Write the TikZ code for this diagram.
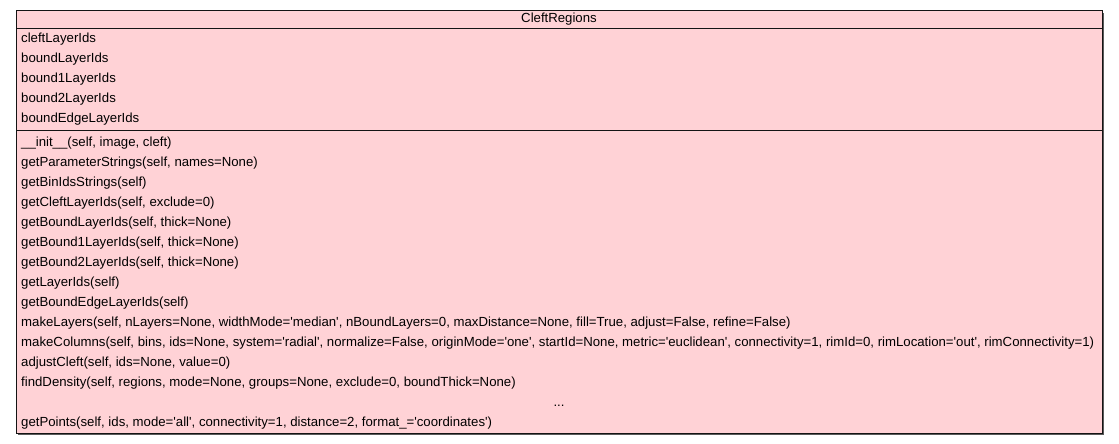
\documentclass[tikz,border=0pt]{standalone}
\usepackage{fontspec}
\setmainfont{Liberation Sans}
\definecolor{boxfill}{RGB}{255,210,214}
\definecolor{boxline}{RGB}{20,20,20}
\definecolor{shadowc}{RGB}{90,90,90}
\newcommand{\q}{\textquotesingle}
\tikzset{
  member/.style={anchor=west,inner sep=0pt,font=\fontsize{13.2}{15}\selectfont,text height=9.5pt,text depth=2.5pt},
  titletext/.style={anchor=center,inner sep=0pt,font=\fontsize{13.2}{15}\selectfont,text height=9.5pt,text depth=2.5pt},
  sep/.style={draw=boxline,line width=1pt}
}
\begin{document}
\begin{tikzpicture}[x=1pt,y=-1pt]
\useasboundingbox (0,0) rectangle (1119,444);
\fill[white] (0,0) rectangle (1119,444);
% shadow
\fill[shadowc] (18,13) rectangle (1104,435);
% box
\filldraw[fill=boxfill,draw=boxline,line width=1pt] (16,11) rectangle (1102,433);
\coordinate (tl) at (16,28.3);
\coordinate (tr) at (1102,28.3);
\coordinate (sl) at (16,130.5);
\coordinate (sr) at (1102,130.5);
\draw[sep] (tl) -- (tr);
\draw[sep] (sl) -- (sr);
\node[titletext] (title) at (559,18.8) {CleftRegions};
% attributes
\node[member] (a1) at (21,39) {cleftLayerIds};
\node[member] (a2) at (21,59) {boundLayerIds};
\node[member] (a3) at (21,79) {bound1LayerIds};
\node[member] (a4) at (21,99) {bound2LayerIds};
\node[member] (a5) at (21,119) {boundEdgeLayerIds};
% methods
\node[member] (m1) at (21,142.5) {\_\_init\_\_(self, image, cleft)};
\node[member] (m2) at (21,162.5) {getParameterStrings(self, names=None)};
\node[member] (m3) at (21,182.5) {getBinIdsStrings(self)};
\node[member] (m4) at (21,202.5) {getCleftLayerIds(self, exclude=0)};
\node[member] (m5) at (21,222.5) {getBoundLayerIds(self, thick=None)};
\node[member] (m6) at (21,242.5) {getBound1LayerIds(self, thick=None)};
\node[member] (m7) at (21,262.5) {getBound2LayerIds(self, thick=None)};
\node[member] (m8) at (21,282.5) {getLayerIds(self)};
\node[member] (m9) at (21,302.5) {getBoundEdgeLayerIds(self)};
\node[member] (m10) at (21,322.5) {makeLayers(self, nLayers=None, widthMode=\q median\q, nBoundLayers=0, maxDistance=None, fill=True, adjust=False, refine=False)};
\node[member] (m11) at (21,342.5) {makeColumns(self, bins, ids=None, system=\q radial\q, normalize=False, originMode=\q one\q, startId=None, metric=\q euclidean\q, connectivity=1, rimId=0, rimLocation=\q out\q, rimConnectivity=1)};
\node[member] (m12) at (21,362.5) {adjustCleft(self, ids=None, value=0)};
\node[member] (m13) at (21,382.5) {findDensity(self, regions, mode=None, groups=None, exclude=0, boundThick=None)};
\node[titletext] (dots) at (559,402.5) {...};
\node[member] (m14) at (21,422.5) {getPoints(self, ids, mode=\q all\q, connectivity=1, distance=2, format\_=\q coordinates\q)};
\end{tikzpicture}
\end{document}
